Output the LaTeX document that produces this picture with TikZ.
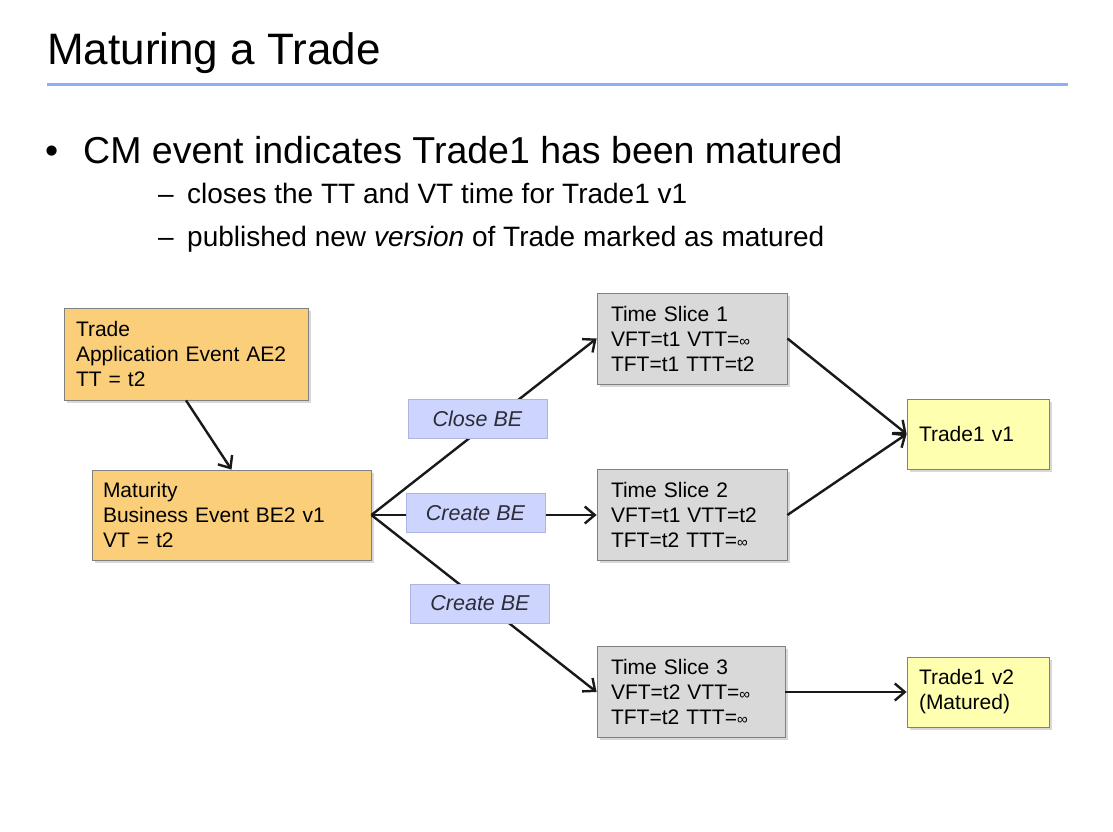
\documentclass[tikz,border=0pt]{standalone}
\usepackage{fontspec}
\setmainfont{Liberation Sans}
\usetikzlibrary{arrows.meta,shadows}

\definecolor{eventfill}{RGB}{251,206,122}
\definecolor{slicefill}{RGB}{217,217,217}
\definecolor{tradefill}{RGB}{255,255,176}
\definecolor{labelfill}{RGB}{205,213,255}
\definecolor{labelborder}{RGB}{172,180,228}
\definecolor{boxborder}{RGB}{128,128,128}
\definecolor{titlerule}{RGB}{140,176,246}
\definecolor{labeltext}{RGB}{45,45,55}

% small infinity sign as used in the time-slice boxes
\newcommand\smallinf{{\fontsize{15}{15}\selectfont ∞}}

\begin{document}
\begin{tikzpicture}[x=1pt,y=-1pt,
  boxbase/.style={draw=boxborder, line width=0.8pt, align=left, inner ysep=0pt,
    drop shadow={shadow xshift=2.5pt, shadow yshift=-2.5pt, opacity=0.3},
    font=\fontsize{21}{25}\selectfont},
  evtbox/.style={boxbase, fill=eventfill, inner xsep=12pt},
  slicebox/.style={boxbase, fill=slicefill, inner xsep=14pt, text width=162pt,
    minimum width=190pt, minimum height=91pt},
  tradebox/.style={boxbase, fill=tradefill, inner xsep=12pt, text width=118pt,
    minimum width=142pt, minimum height=70pt},
  tag/.style={draw=labelborder, line width=0.8pt, fill=labelfill, text=labeltext,
    minimum width=139pt, minimum height=39pt, inner sep=0pt,
    font=\fontsize{21.5}{25}\selectfont\itshape},
  flow/.style={line width=2.4pt, draw=black!90,
    -{Straight Barb[length=10pt,width=17pt,line width=2.4pt]}},
  plain/.style={inner sep=0pt, anchor=base west}
]
\useasboundingbox[fill=white] (0,0) rectangle (1113,832);

% heading and rule
\node[plain, font=\fontsize{44}{48}\selectfont] (title) at (47,65) {Maturing a Trade};
\draw[titlerule, line width=3pt] (47,85) -- (1068,85);

% bullet list
\node[plain, font=\fontsize{37.5}{40}\selectfont] (b1mark) at (45,163) {•};
\node[plain, font=\fontsize{37.5}{40}\selectfont] (b1) at (83,163) {CM event indicates Trade1 has been matured};
\node[plain, font=\fontsize{28}{30}\selectfont] (b2mark) at (158,203) {–};
\node[plain, font=\fontsize{28}{30}\selectfont] (b2) at (187,203) {closes the TT and VT time for Trade1 v1};
\node[plain, font=\fontsize{28}{30}\selectfont] (b3mark) at (158,246) {–};
\node[plain, font=\fontsize{28}{30}\selectfont] (b3) at (187,246) {published new \textit{version} of Trade marked as matured};

% event boxes
\node[evtbox, text width=220pt, minimum width=244pt, minimum height=92pt] (ae2) at (186,354)
  {Trade\\Application Event AE2\\TT = t2};
\node[evtbox, inner xsep=11pt, text width=257pt, minimum width=279pt, minimum height=90pt] (be2) at (231.5,515)
  {Maturity\\Business Event BE2 v1\\VT = t2};

% time slices
\node[slicebox] (ts1) at (692,338.5) {Time Slice 1\\VFT=t1 VTT=\smallinf\\TFT=t1 TTT=t2};
\node[slicebox] (ts2) at (692,515) {Time Slice 2\\VFT=t1 VTT=t2\\TFT=t2 TTT=\smallinf};
\node[slicebox, minimum width=188pt, text width=160pt] (ts3) at (691,692) {Time Slice 3\\VFT=t2 VTT=\smallinf\\TFT=t2 TTT=\smallinf};

% trade versions
\node[tradebox] (tv1) at (978,434) {Trade1 v1};
\node[tradebox] (tv2) at (978,692) {Trade1 v2\\(Matured)};

% connectors
\draw[flow] (ae2.south) -- (be2.north);
\draw[flow] (be2.east) -- (ts1.west);
\draw[flow] (be2.east) -- (ts2.west);
\draw[flow] (be2.east) -- (ts3.west);
\draw[flow] (ts1.east) -- (tv1.west);
\draw[flow] (ts2.east) -- (tv1.west);
\draw[flow] (ts3.east) -- (tv2.west);

% connector labels on top of the lines
\node[tag] (close) at (477.5,418.5) {Close BE};
\node[tag] (create1) at (475.5,513) {Create BE};
\node[tag] (create2) at (480,603.5) {Create BE};
\end{tikzpicture}
\end{document}
